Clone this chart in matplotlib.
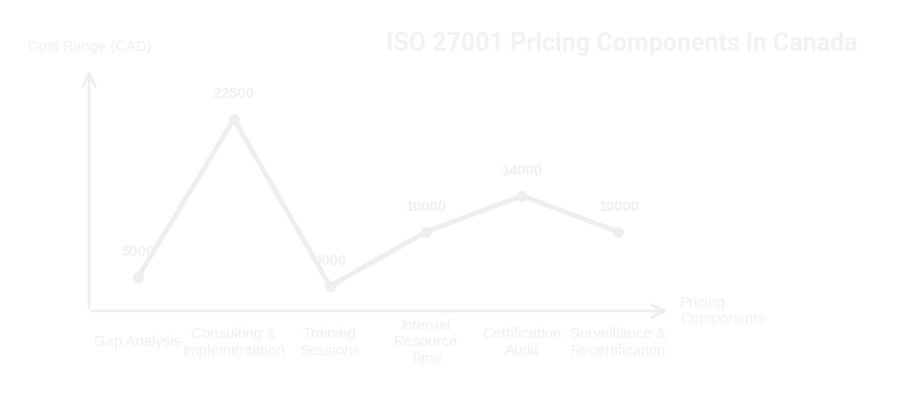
import matplotlib.pyplot as plt

categories = ['Gap Analysis', 'Consulting &\nImplementation', 'Training\nSessions',
              'Internal\nResource\nTime', 'Certification\nAudit', 'Surveillance &\nRecertification']
costs = [5000, 22500, 4000, 10000, 14000, 10000]
labels = ['5000', '22500', '4000', '10000', '14000', '10000']

W, H = 900, 403
fig = plt.figure(figsize=(W / 100, H / 100), dpi=100)
fig.patch.set_facecolor('white')

# axes box: x 89..670 px, y 68..311 px (from top)
ax = fig.add_axes([89 / W, (H - 311) / H, (670 - 89) / W, (311 - 68) / H])
ax.set_facecolor('none')
ax.set_xlim(-0.51, 5.54)
ax.set_ylim(1235, 28145)
for s in ax.spines.values():
    s.set_visible(False)
ax.set_xticks([])
ax.set_yticks([])

c_line = '#eeeeee'
c_text = '#f0f0f0'

# axes arrows
ax.annotate('', xy=(1, 0), xytext=(0, 0), xycoords='axes fraction',
            arrowprops=dict(arrowstyle='->', color=c_line, lw=2, mutation_scale=22))
ax.annotate('', xy=(0, 1), xytext=(0, 0), xycoords='axes fraction',
            arrowprops=dict(arrowstyle='->', color=c_line, lw=2, mutation_scale=22))

x = list(range(len(categories)))
ax.plot(x, costs, color=c_line, lw=3.5, marker='o', markersize=7, zorder=3)

for i, (v, t) in enumerate(zip(costs, labels)):
    ax.annotate(t, (i, v), xytext=(0, 13), textcoords='offset points',
                ha='center', va='bottom', fontsize=10.5, fontweight='bold',
                color=c_text, family='Liberation Sans')

# category labels under the axis
for i, c in enumerate(categories):
    ax.annotate(c, (i, 0), xycoords=('data', 'axes fraction'), xytext=(0, -22.5),
                textcoords='offset points', ha='center', va='center',
                fontsize=10.8, color=c_text, family='Liberation Sans',
                linespacing=1.25)

fig.text(680 / W, 1 - 311 / H, 'Pricing\nComponents', ha='left', va='center',
         fontsize=10.8, color=c_text, family='Liberation Sans', linespacing=1.25)
fig.text(28 / W, 1 - 47 / H, 'Cost Range (CAD)', ha='left', va='center',
         fontsize=10.6, color=c_text, family='Liberation Sans')
fig.text(858 / W, 1 - 44 / H, 'ISO 27001 Pricing Components in Canada', ha='right',
         va='center', fontsize=18, fontweight='bold', color='#f2f2f2', family='Roboto')

fig.savefig('out.png', dpi=100, facecolor='white')
